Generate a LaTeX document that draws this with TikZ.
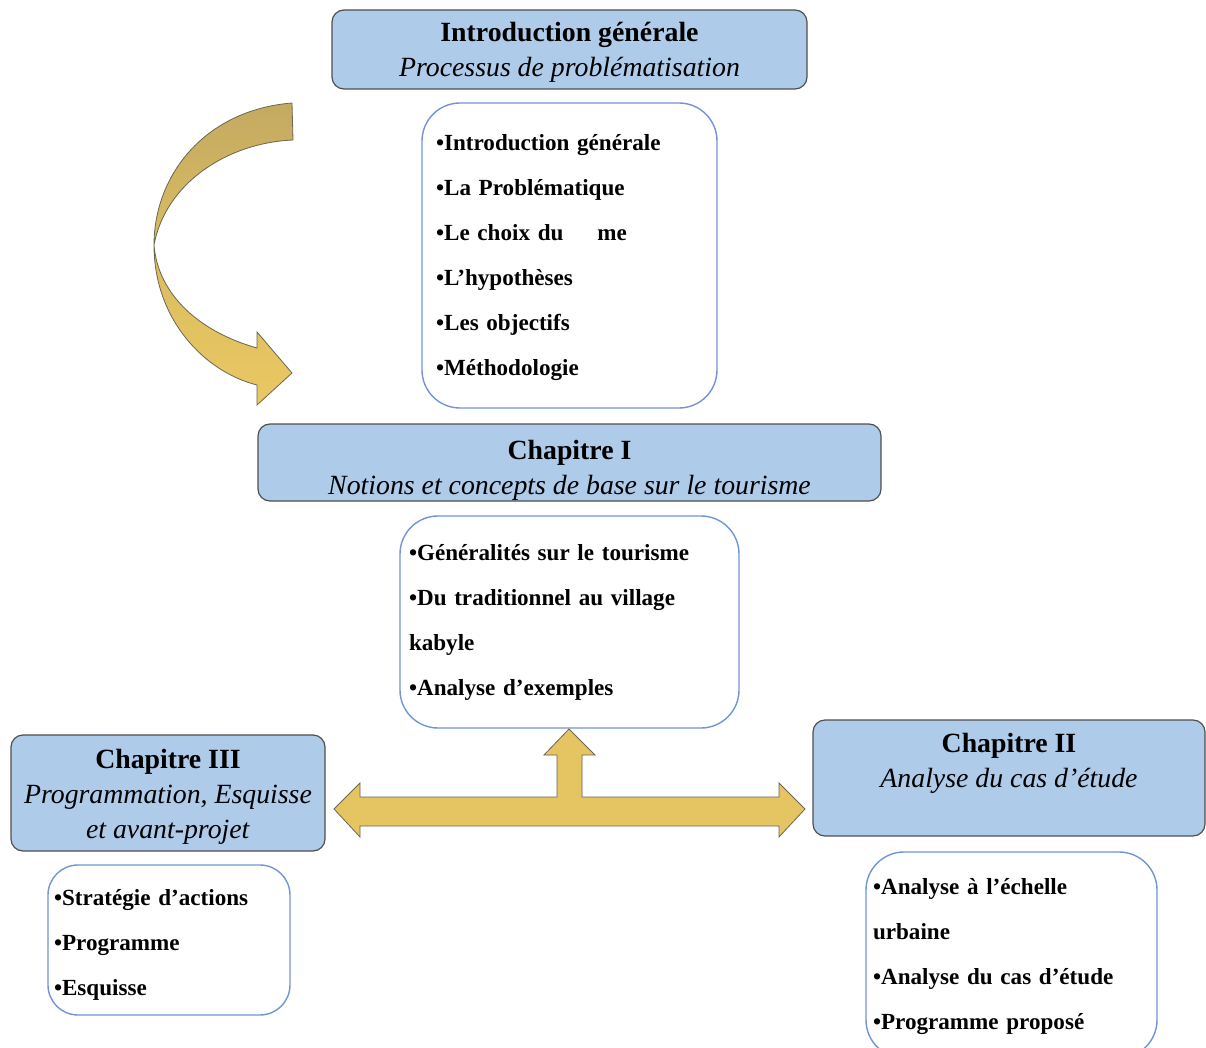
\documentclass[tikz,border=0pt]{standalone}
\usepackage{fontspec}
\setmainfont{Liberation Serif}
\definecolor{tfill}{HTML}{AFCBEA}
\definecolor{tbord}{HTML}{4F4F4F}
\definecolor{lbord}{HTML}{6F95D6}
\definecolor{arrfill}{HTML}{E5C462}
\definecolor{arrbord}{HTML}{6B6552}
\definecolor{cdark}{HTML}{C4AA62}
\definecolor{cmid}{HTML}{D9BC60}
\definecolor{clight}{HTML}{EAC862}
\begin{document}
\begin{tikzpicture}[x=1pt,y=-1pt,
  titlebox/.style={draw=tbord, fill=tfill, rounded corners=12pt, line width=1.2pt,
    align=center, font=\fontsize{27.8}{35}\selectfont, inner sep=0pt},
  listbox/.style={draw=lbord, fill=white, rounded corners=38pt, line width=1.4pt,
    align=left, font=\bfseries\fontsize{23.1}{45}\selectfont, inner ysep=0pt},
  blockarrow/.style={draw=arrbord, line width=0.8pt, line join=miter}]
\useasboundingbox (0,0) rectangle (1206,1048);

% title boxes
\node[titlebox, minimum width=475pt, minimum height=79pt] (intro) at (569.5,49.5)
  {\rule{0pt}{25.5pt}\textbf{Introduction générale}\\\textit{Processus de problématisation}};
\node[titlebox, minimum width=623pt, minimum height=77pt] (ch1) at (569.5,462.5)
  {\rule{0pt}{35pt}\textbf{Chapitre I}\\\textit{Notions et concepts de base sur le tourisme}};
\node[titlebox, minimum width=314pt, minimum height=116pt] (ch3) at (168,793)
  {\rule{0pt}{27pt}\textbf{Chapitre III}\\\textit{Programmation, Esquisse}\\\textit{et avant-projet}};
\node[titlebox, minimum width=392pt, minimum height=116pt] (ch2) at (1009,778)
  {\textbf{Chapitre II}\\\textit{Analyse du cas d’étude}\\\mbox{}};

% list boxes
\node[listbox, inner xsep=14pt, text width=267pt, minimum height=305pt] (l1) at (569.5,255.5)
  {\rule{0pt}{20pt}•Introduction générale\\•La Problématique\\•Le choix du\hspace{34pt}me\\•L’hypothèses\\•Les objectifs\\•Méthodologie};
\node[listbox, inner xsep=9pt, text width=321pt, minimum height=212pt] (l2) at (569.5,622)
  {•Généralités sur le tourisme\\•Du traditionnel au village\\kabyle\\•Analyse d’exemples};
\node[listbox, inner xsep=6pt, text width=230pt, minimum height=150pt, rounded corners=30pt] (l3) at (169,940)
  {\rule{0pt}{26pt}•Stratégie d’actions\\•Programme\\•Esquisse};
\node[listbox, inner xsep=7pt, text width=277pt, minimum height=206pt] (l4) at (1011.5,955)
  {\rule{0pt}{20pt}•Analyse à l’échelle\\urbaine\\•Analyse du cas d’étude\\•Programme proposé};

% three-way block arrow
\path[blockarrow, fill=arrfill]
  (334,809) -- (360,783) -- (360,797) -- (557,797) -- (557,755) -- (544,755)
  -- (569,729) -- (595,755) -- (582,755) -- (582,797) -- (779,797) -- (779,783)
  -- (805,809) -- (779,837) -- (779,826) -- (360,826) -- (360,837) -- cycle;

% curved arrow: upper (back) band
\path[blockarrow, top color=cdark, bottom color=cmid]
  (292,103) .. controls (205,110) and (154,175) .. (154,245)
  .. controls (165,185) and (225,143) .. (293,140) -- cycle;
% lower (front) band with head
\path[blockarrow, top color=cmid, bottom color=clight]
  (154,245) .. controls (154,320) and (205,372) .. (257,385)
  -- (257,405) -- (292,373) -- (257,332) -- (257,348)
  .. controls (200,332) and (158,295) .. (154,245) -- cycle;
\end{tikzpicture}
\end{document}
